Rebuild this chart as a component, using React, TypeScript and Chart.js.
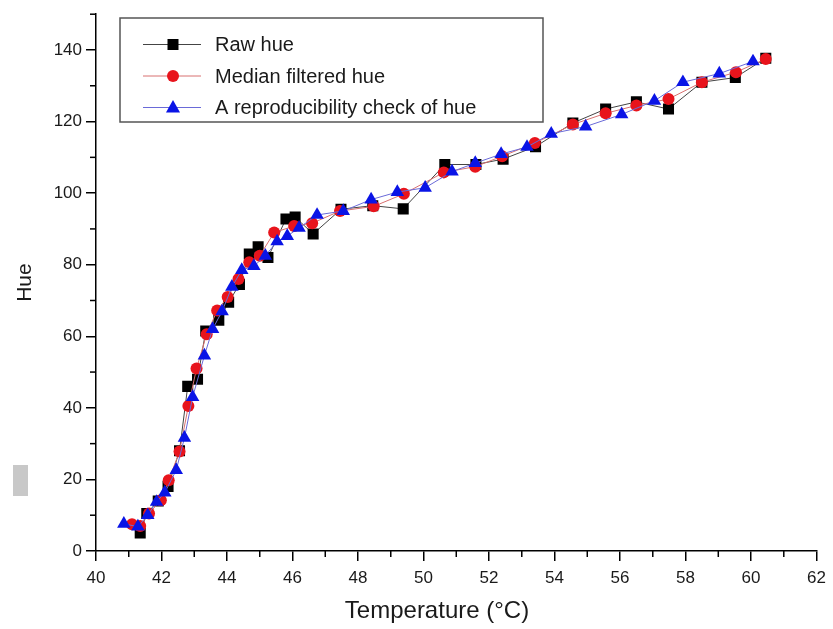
import React, { useEffect, useRef } from "react";
import { Chart, registerables } from "chart.js";

Chart.register(...registerables);

const rawTemp = [41.35, 41.55, 41.9, 42.2, 42.55, 42.8, 43.1, 43.35, 43.75, 44.05, 44.38, 44.68, 44.95, 45.25, 45.8, 46.08, 46.63, 47.48, 48.45, 49.38, 50.65, 51.6, 52.43, 53.42, 54.56, 55.56, 56.5, 57.48, 58.5, 59.52, 60.45];
const rawHue = [5, 10.5, 14, 18, 28, 46, 48, 61.5, 64.5, 69.5, 74.5, 83, 85, 82, 92.8, 93.3, 88.6, 95.5, 96.5, 95.6, 108, 108, 109.5, 113, 119.6, 123.5, 125.5, 123.5, 131, 132.3, 137.7];

const medTemp = [41.1, 41.35, 41.62, 41.98, 42.22, 42.55, 42.82, 43.07, 43.38, 43.7, 44.02, 44.35, 44.68, 45.0, 45.44, 46.05, 46.6, 47.45, 48.48, 49.4, 50.62, 51.58, 52.4, 53.4, 54.56, 55.56, 56.5, 57.48, 58.5, 59.54, 60.45];
const medHue = [7.5, 7, 10.5, 14.2, 19.8, 27.8, 40.5, 51, 60.6, 67.2, 71, 76, 80.7, 82.5, 89, 90.8, 91.6, 95, 96.3, 99.8, 105.8, 107.4, 110.3, 114, 119.2, 122.3, 124.5, 126.3, 131, 133.8, 137.5];

const repTemp = [40.85, 41.28, 41.58, 41.85, 42.1, 42.45, 42.7, 42.95, 43.31, 43.56, 43.85, 44.15, 44.45, 44.82, 45.17, 45.53, 45.84, 46.2, 46.75, 47.55, 48.4, 49.2, 50.05, 50.87, 51.58, 52.37, 53.16, 53.9, 54.95, 56.05, 57.05, 57.92, 59.03, 60.06];
const repHue = [7.6, 6.8, 10, 13.7, 16.3, 22.6, 31.6, 43, 54.6, 62, 67, 73.8, 78.5, 79.6, 82.5, 86.5, 88, 90.3, 93.9, 95, 98.2, 100.3, 101.5, 106, 108.4, 110.9, 112.9, 116.6, 118.6, 122, 125.8, 131, 133.4, 136.8];

const seriesLabels = ["Raw hue", "Median filtered hue", "A reproducibility check of hue"];
const xTitle = "Temperature (°C)";
const yTitle = "Hue";

const toPoints = (xs: number[], ys: number[]) => xs.map((x, i) => ({ x, y: ys[i] }));

const FONT = "'Liberation Sans', Arial, sans-serif";

function drawMarker(ctx: CanvasRenderingContext2D, style: string, x: number, y: number, color: string) {
  ctx.save();
  ctx.fillStyle = color;
  ctx.beginPath();
  if (style === "rect") {
    ctx.rect(x - 5.5, y - 5.5, 11, 11);
  } else if (style === "circle") {
    ctx.arc(x, y, 6, 0, Math.PI * 2);
  } else {
    ctx.moveTo(x, y - 7.5);
    ctx.lineTo(x + 7, y + 5);
    ctx.lineTo(x - 7, y + 5);
    ctx.closePath();
  }
  ctx.fill();
  ctx.restore();
}

const decorPlugin = {
  id: "decor",
  beforeDraw(chart: any) {
    const ctx = chart.ctx as CanvasRenderingContext2D;
    ctx.save();
    ctx.fillStyle = "#c8c8c8";
    ctx.fillRect(13, 465, 15, 31);
    ctx.restore();
  },
  afterDraw(chart: any) {
    const ctx = chart.ctx as CanvasRenderingContext2D;
    const xs = chart.scales.x;
    const ys = chart.scales.y;
    ctx.save();
    ctx.strokeStyle = "#000";
    ctx.lineWidth = 1.5;
    for (let v = 41; v <= 61; v += 2) {
      const px = xs.getPixelForValue(v);
      ctx.beginPath();
      ctx.moveTo(px, xs.top);
      ctx.lineTo(px, xs.top + 6);
      ctx.stroke();
    }
    for (let v = 10; v <= 150; v += 20) {
      const py = ys.getPixelForValue(v);
      ctx.beginPath();
      ctx.moveTo(ys.right, py);
      ctx.lineTo(ys.right - 6, py);
      ctx.stroke();
    }
    // x axis title
    ctx.fillStyle = "#1a1a1a";
    ctx.font = `24px ${FONT}`;
    ctx.textAlign = "center";
    ctx.textBaseline = "middle";
    ctx.fillText(xTitle, 437, 611);
    ctx.restore();

    // legend
    const bx = 120, by = 18, bw = 423, bh = 104;
    ctx.save();
    ctx.strokeStyle = "#555";
    ctx.lineWidth = 1.5;
    ctx.strokeRect(bx, by, bw, bh);
    ctx.font = `20px ${FONT}`;
    ctx.textBaseline = "middle";
    ctx.textAlign = "left";
    chart.data.datasets.forEach((ds: any, i: number) => {
      const ry = 44.5 + 31.5 * i;
      ctx.strokeStyle = ds.borderColor;
      ctx.lineWidth = 1;
      ctx.beginPath();
      ctx.moveTo(143, ry);
      ctx.lineTo(201, ry);
      ctx.stroke();
      drawMarker(ctx, ds.pointStyle, 173, ry, ds.pointBackgroundColor);
      ctx.fillStyle = "#1a1a1a";
      ctx.fillText(ds.label, 215, ry + 1);
    });
    ctx.restore();
  },
};

export default function App() {
  const ref = useRef<HTMLCanvasElement | null>(null);

  useEffect(() => {
    if (!ref.current) return;
    const chart = new Chart(ref.current, {
      type: "line",
      data: {
        datasets: [
          {
            label: seriesLabels[0],
            data: toPoints(rawTemp, rawHue),
            borderColor: "#444444",
            borderWidth: 1,
            pointStyle: "rect",
            pointRadius: 7.8,
            pointBackgroundColor: "#000000",
            pointBorderColor: "#000000",
            pointBorderWidth: 0,
            order: 3,
          },
          {
            label: seriesLabels[1],
            data: toPoints(medTemp, medHue),
            borderColor: "#d87070",
            borderWidth: 1,
            pointStyle: "circle",
            pointRadius: 6,
            pointBackgroundColor: "#e8141c",
            pointBorderColor: "#e8141c",
            pointBorderWidth: 0,
            order: 2,
          },
          {
            label: seriesLabels[2],
            data: toPoints(repTemp, repHue),
            borderColor: "#6a6ad8",
            borderWidth: 1,
            pointStyle: "triangle",
            pointRadius: 7.8,
            pointBackgroundColor: "#0a14e6",
            pointBorderColor: "#0a14e6",
            pointBorderWidth: 0,
            order: 1,
          },
        ] as any,
      },
      options: {
        animation: false,
        responsive: true,
        maintainAspectRatio: false,
        layout: { padding: { left: 0, right: 13, top: 14, bottom: 0 } },
        plugins: { legend: { display: false }, tooltip: { enabled: false } },
        scales: {
          x: {
            type: "linear",
            min: 40,
            max: 62,
            grid: { display: true, drawOnChartArea: false, drawTicks: true, tickLength: 10, color: "#000", lineWidth: 1.5 },
            border: { display: true, color: "#000", width: 1.5 },
            ticks: { stepSize: 2, color: "#1a1a1a", font: { family: FONT, size: 17 }, padding: 7, maxRotation: 0, autoSkip: false },
            title: { display: false, text: xTitle },
            afterFit: (s: any) => { s.height = 78; },
          },
          y: {
            type: "linear",
            min: 0,
            max: 150,
            grid: { display: true, drawOnChartArea: false, drawTicks: true, tickLength: 10, color: "#000", lineWidth: 1.5 },
            border: { display: true, color: "#000", width: 1.5 },
            ticks: { stepSize: 20, includeBounds: false, color: "#1a1a1a", font: { family: FONT, size: 17 }, padding: 4 },
            title: { display: true, text: yTitle, color: "#1a1a1a", font: { family: FONT, size: 21 }, padding: { top: 13, bottom: 0 } },
            afterFit: (s: any) => { s.width = 96; },
          },
        },
      } as any,
      plugins: [decorPlugin],
    });
    return () => chart.destroy();
  }, []);

  return (
    <div style={{ position: "fixed", left: 0, top: 0, width: 833, height: 629, background: "#fff" }}>
      <canvas ref={ref} />
    </div>
  );
}
